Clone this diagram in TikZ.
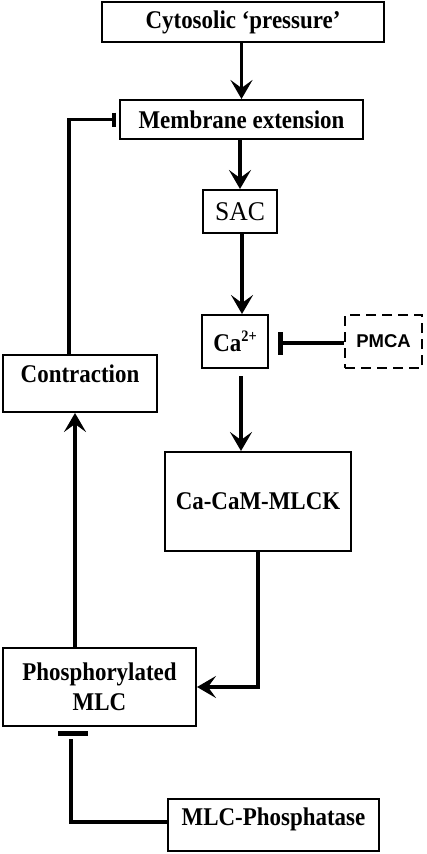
\documentclass[tikz,border=0pt]{standalone}
\usepackage{fontspec}
\setmainfont{Liberation Serif}
\newfontfamily\tnr[FakeStretch=0.9]{Liberation Serif}
\newfontfamily\tnrs[FakeStretch=0.95]{Liberation Serif}
\newfontfamily\sansf{Liberation Sans}
\usetikzlibrary{arrows.meta}
\begin{document}
\begin{tikzpicture}[x=1pt,y=-1pt,
  box/.style={draw, line width=2pt, rectangle, inner sep=0pt, align=center,
    font=\tnr\bfseries\fontsize{25.5}{30}\selectfont},
  lift/.style={text height=17pt, text depth=#1},
  conn/.style={line width=3.2pt},
  arr/.style={conn, -{Stealth[length=19pt,width=22pt,inset=8pt]}},
  inh/.style={conn, -{Bar[width=#1, line width=4.5pt]}}
]
\useasboundingbox (0,0) rectangle (427,854);
\fill[white] (0,0) rectangle (427,854);

\node[box, minimum width=282pt, minimum height=40pt] (cyt) at (243,22) {Cytosolic ‘pressure’};
\node[box, minimum width=243pt, minimum height=39pt] (mem) at (241.5,119.5) {Membrane extension};
\node[box, minimum width=74pt, minimum height=43pt, font=\tnrs\fontsize{27}{30}\selectfont] (sac) at (240,211.5) {SAC};
\node[box, minimum width=66pt, minimum height=53pt] (ca) at (235,341.5) {Ca\raisebox{0.8ex}{\fontsize{16}{18}\selectfont 2+}};
\node[box, dash pattern=on 10pt off 6pt, line width=2.5pt, minimum width=77pt, minimum height=53pt,
      font=\sansf\bfseries\fontsize{18.5}{22}\selectfont] (pmca) at (383.5,341.5) {PMCA};
\node[box, minimum width=186pt, minimum height=99pt] (mlck) at (258,501.5) {Ca-CaM-MLCK};
\node[box, minimum width=154pt, minimum height=57pt, lift=18.8pt] (con) at (80,383.5) {Contraction};
\node[box, minimum width=193pt, minimum height=78pt] (phos) at (99.5,687) {Phosphorylated\\MLC};
\node[box, minimum width=211pt, minimum height=52pt, lift=15.8pt] (ppt) at (273.5,825) {MLC-Phosphatase};

\draw[arr] (cyt.south -| mem.north) -- (mem.north);
\draw[arr] (mem.south -| sac.north) -- (sac.north);
\draw[arr] ([xshift=2pt]sac.south) -- ([xshift=2pt]sac.south |- ca.north);
\draw[arr] ([xshift=1pt,yshift=-7pt]sac.south |- ca.south) -- ([xshift=1pt]sac.south |- mlck.north);
\draw[arr] (mlck.south) |- (phos.east);
\draw[arr] ([xshift=-5pt]con.south |- phos.north) -- ([xshift=-5pt]con.south);
\draw[inh=14pt, shorten >=3pt] ([xshift=-11pt]con.north) |- (mem.west);
\draw[inh=23pt, shorten >=9pt] ([yshift=-1.5pt]pmca.west) -- ([yshift=-1.5pt]pmca.west -| ca.east);
\coordinate (pend) at ([xshift=-28.5pt,yshift=-12pt]phos.south);
\coordinate (barL) at ([xshift=-41.5pt,yshift=-6pt]phos.south);
\coordinate (barR) at ([xshift=-11.5pt,yshift=-6pt]phos.south);
\draw[conn] ([yshift=3pt]ppt.west) -| (pend);
\draw[line width=5pt] (barL) -- (barR);
\end{tikzpicture}
\end{document}
